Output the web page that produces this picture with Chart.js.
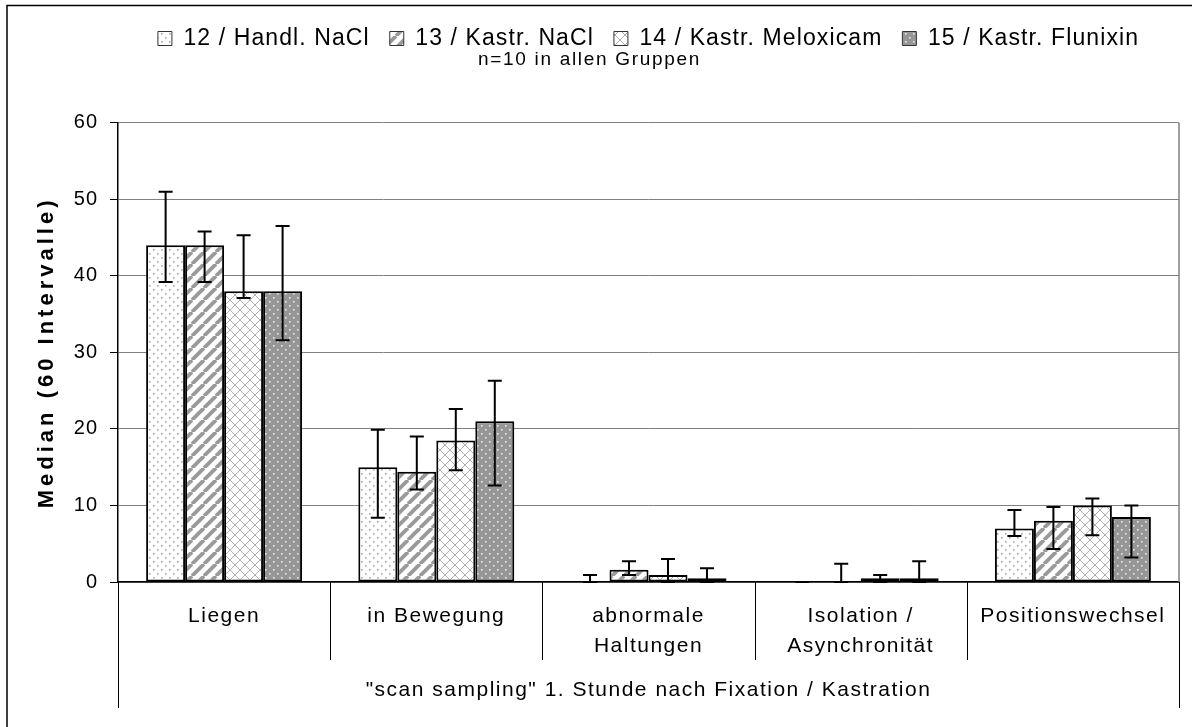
<!DOCTYPE html>
<html>
<head>
<meta charset="utf-8">
<script src="https://cdn.jsdelivr.net/npm/chart.js@4/dist/chart.umd.min.js"></script>
<style>
  html, body { margin: 0; padding: 0; background: #fff; }
  #wrap { width: 1192px; height: 727px; position: relative; }
</style>
</head>
<body>
<div id="wrap"><canvas id="chart"></canvas></div>
<script>
// Behaviour categories (x axis) and group labels
const categories = ['Liegen', 'in Bewegung', ['abnormale', 'Haltungen'], ['Isolation /', 'Asynchronität'], 'Positionswechsel'];
const groupNames = ['12 / Handl. NaCl', '13 / Kastr. NaCl', '14 / Kastr. Meloxicam', '15 / Kastr. Flunixin'];

// Medians per group
const median12 = [44, 15, 0, 0, 7];
const median13 = [44, 14.4, 1.6, 0, 8];
const median14 = [38, 18.5, 0.9, 0.5, 10];
const median15 = [38, 21, 0.5, 0.5, 8.5];

// Lower / upper whisker values per group
const lower12 = [39.2, 8.4, 0, 0, 6.0];
const upper12 = [51, 19.9, 0.9, 0, 9.4];
const lower13 = [39.2, 12.1, 0.9, 0, 4.3];
const upper13 = [45.8, 19, 2.7, 2.4, 9.8];
const lower14 = [37.1, 14.6, 0, 0, 6.1];
const upper14 = [45.3, 22.6, 3, 0.9, 10.9];
const lower15 = [31.6, 12.6, 0, 0, 3.2];
const upper15 = [46.5, 26.3, 1.8, 2.7, 10];

const yTicks = [0, 10, 20, 30, 40, 50, 60];

const FONT = "'Liberation Sans', Arial, sans-serif";

const canvas = document.getElementById('chart');
const ctxMain = canvas.getContext('2d');

// Wider glyph spacing per text style (keyed by font size / weight)
function spacingFor(font) {
  const m = /(\d+(?:\.\d+)?)px/.exec(font);
  const size = m ? parseFloat(m[1]) : 0;
  if (/bold/.test(font)) return size === 22 ? '4px' : '0px';
  if (size === 20) return '1px';    // y tick labels
  if (size === 21) return '1.5px';  // category labels and axis title
  if (size === 23) return '1.1px';  // legend
  if (size === 19) return '1.7px';  // subtitle
  return '0px';
}
(function () {
  if (!('letterSpacing' in ctxMain)) return;
  const desc = Object.getOwnPropertyDescriptor(CanvasRenderingContext2D.prototype, 'font');
  Object.defineProperty(ctxMain, 'font', {
    configurable: true,
    get() { return desc.get.call(this); },
    set(v) { desc.set.call(this, v); this.letterSpacing = spacingFor(v); }
  });
})();

// Fill patterns
function makePattern(w, h, paint) {
  const c = document.createElement('canvas');
  c.width = w; c.height = h;
  const g = c.getContext('2d');
  paint(g, w, h);
  return ctxMain.createPattern(c, 'repeat');
}

const dotsGray = makePattern(8, 8, (g) => {
  g.fillStyle = '#fff'; g.fillRect(0, 0, 8, 8);
  g.fillStyle = '#a8a8a8';
  g.fillRect(1, 1, 1.6, 1.6);
  g.fillRect(5, 5, 1.6, 1.6);
});
const stripes = makePattern(12, 12, (g) => {
  g.fillStyle = '#fff'; g.fillRect(0, 0, 12, 12);
  g.strokeStyle = '#9a9a9a'; g.lineWidth = 3.8;
  g.beginPath();
  for (let k = -12; k <= 24; k += 12) { g.moveTo(k, 12); g.lineTo(k + 12, 0); }
  g.stroke();
});
const crossHatch = makePattern(10, 10, (g) => {
  g.fillStyle = '#fff'; g.fillRect(0, 0, 10, 10);
  g.strokeStyle = '#b0b0b0'; g.lineWidth = 1;
  g.beginPath();
  g.moveTo(0, 0); g.lineTo(10, 10);
  g.moveTo(10, 0); g.lineTo(0, 10);
  g.stroke();
});
const dotsWhite = makePattern(8, 8, (g) => {
  g.fillStyle = '#969696'; g.fillRect(0, 0, 8, 8);
  g.fillStyle = '#e8e8e8';
  g.fillRect(1, 1, 1.6, 1.6);
  g.fillRect(5, 5, 1.6, 1.6);
});

const medians = [median12, median13, median14, median15];
const lowers = [lower12, lower13, lower14, lower15];
const uppers = [upper12, upper13, upper14, upper15];
const fills = [dotsGray, stripes, crossHatch, dotsWhite];

const datasets = groupNames.map((name, i) => ({
  label: name,
  data: medians[i],
  lower: lowers[i],
  upper: uppers[i],
  backgroundColor: fills[i],
  borderColor: '#000',
  // zero-height bars get no outline
  borderWidth: (c) => (c.raw === 0 ? 0 : 2),
  borderSkipped: false,
  categoryPercentage: 0.735,
  barPercentage: 1.0
}));

// Whiskers drawn from each bar's x position and the y scale
const errorBars = {
  id: 'errorBars',
  afterDatasetsDraw(chart) {
    const y = chart.scales.y;
    const c = chart.ctx;
    c.save();
    c.strokeStyle = '#000';
    c.lineWidth = 2;
    chart.data.datasets.forEach((ds, i) => {
      const meta = chart.getDatasetMeta(i);
      meta.data.forEach((bar, j) => {
        const x = bar.x;
        const yl = y.getPixelForValue(ds.lower[j]);
        const yu = y.getPixelForValue(ds.upper[j]);
        const cap = 7;
        c.beginPath();
        c.moveTo(x, yl); c.lineTo(x, yu);
        c.moveTo(x - cap, yl); c.lineTo(x + cap, yl);
        c.moveTo(x - cap, yu); c.lineTo(x + cap, yu);
        c.stroke();
      });
    });
    c.restore();
  }
};

// Outer frame, plot frame and category separators below the axis
const frames = {
  id: 'frames',
  beforeDraw(chart) {
    const c = chart.ctx;
    c.save();
    c.fillStyle = '#fff';
    c.fillRect(0, 0, chart.width, chart.height);
    c.strokeStyle = '#000';
    c.lineWidth = 1.5;
    c.beginPath();
    c.moveTo(7, chart.height); c.lineTo(7, 5.5); c.lineTo(chart.width, 5.5);
    c.stroke();
    c.restore();
  },
  afterDraw(chart) {
    const c = chart.ctx;
    const a = chart.chartArea;
    const x = chart.scales.x;
    c.save();
    c.strokeStyle = '#808080';
    c.lineWidth = 1.5;
    c.beginPath();
    c.moveTo(a.right, a.top); c.lineTo(a.right, a.bottom);
    c.stroke();
    c.strokeStyle = '#000';
    c.lineWidth = 1;
    const n = categories.length;
    for (let k = 0; k <= n; k++) {
      const px = Math.round(x.getPixelForValue(k - 0.5)) + 0.5;
      const outer = (k === 0 || k === n);
      c.beginPath();
      c.moveTo(px, a.bottom);
      c.lineTo(px, a.bottom + (outer ? 126 : 78));
      c.stroke();
    }
    c.restore();
  }
};

Chart.defaults.font.family = FONT;
Chart.defaults.color = '#000';

new Chart(ctxMain, {
  type: 'bar',
  data: { labels: categories, datasets },
  plugins: [frames, errorBars],
  options: {
    responsive: true,
    maintainAspectRatio: false,
    animation: false,
    layout: { padding: { top: 7, right: 13, left: 0, bottom: 0 } },
    plugins: {
      tooltip: { enabled: false },
      legend: {
        position: 'top',
        weight: 3000,
        fullSize: false,
        maxHeight: 41,
        labels: {
          font: { size: 23 },
          color: '#000',
          boxWidth: 14,
          boxHeight: 14,
          padding: 20,
          generateLabels(chart) {
            return chart.data.datasets.map((ds, i) => ({
              text: ds.label,
              fillStyle: ds.backgroundColor,
              strokeStyle: '#333',
              lineWidth: 1,
              datasetIndex: i
            }));
          }
        }
      },
      subtitle: {
        display: true,
        text: 'n=10 in allen Gruppen',
        font: { size: 19, weight: 'normal' },
        color: '#000',
        padding: { top: 0, bottom: 52 }
      }
    },
    scales: {
      x: {
        type: 'category',
        offset: true,
        grid: { display: false, drawTicks: false },
        border: { display: true, color: '#000', width: 1.5 },
        ticks: {
          autoSkip: false,
          maxRotation: 0,
          minRotation: 0,
          padding: 20,
          font: { size: 21, lineHeight: 1.4 },
          color: '#000'
        },
        title: {
          display: true,
          text: '"scan sampling" 1. Stunde nach Fixation / Kastration',
          font: { size: 21 },
          color: '#000',
          padding: { top: 0, bottom: 24 }
        },
        afterFit(scale) { scale.height = 145; }
      },
      y: {
        min: 0,
        max: 60,
        afterBuildTicks(scale) { scale.ticks = yTicks.map(v => ({ value: v })); },
        grid: { color: '#808080', lineWidth: 1, drawTicks: true, tickLength: 8, tickColor: '#000' },
        border: { display: true, color: '#000', width: 1.5 },
        ticks: { padding: 12, font: { size: 20 }, color: '#000' },
        title: {
          display: true,
          text: 'Median (60 Intervalle)',
          font: { size: 22, weight: 'bold' },
          color: '#000',
          padding: { top: 34, bottom: 0 }
        },
        afterFit(scale) { scale.width = 118; }
      }
    }
  }
});
</script>
</body>
</html>
